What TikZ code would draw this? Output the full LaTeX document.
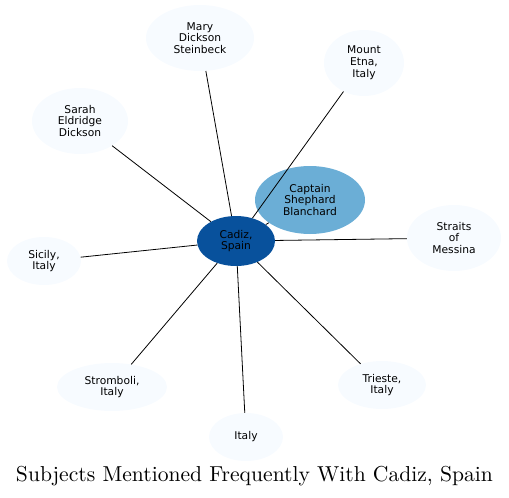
\documentclass[tikz,border=0pt]{standalone}
\usepackage{fontspec}
\newfontfamily\labfont{DejaVu Sans}
\usetikzlibrary{shapes.geometric}
\definecolor{leaf}{HTML}{F7FBFF}
\definecolor{mid}{HTML}{6BAED6}
\definecolor{hub}{HTML}{08519C}
\tikzset{
  ell/.style={ellipse, inner sep=0pt, align=center, font=\labfont\fontsize{10.7}{11.8}\selectfont, text=black},
  leafnode/.style={ell, fill=leaf},
  edge/.style={draw=black, line width=0.8pt}
}
\begin{document}
\begin{tikzpicture}[x=1pt,y=-1pt]
\useasboundingbox (0,0) rectangle (509,498);
\node[leafnode, minimum width=108, minimum height=66] (mary) at (200,38) {Mary\\Dickson\\Steinbeck};
\node[leafnode, minimum width=80, minimum height=66] (etna) at (364,63) {Mount\\Etna,\\Italy};
\node[leafnode, minimum width=96, minimum height=66] (sarah) at (80,121) {Sarah\\Eldridge\\Dickson};
\node[leafnode, minimum width=94, minimum height=66] (straits) at (454,238) {Straits\\of\\Messina};
\node[leafnode, minimum width=74, minimum height=48] (sicily) at (44,261) {Sicily,\\Italy};
\node[leafnode, minimum width=110, minimum height=48] (stromboli) at (112,387) {Stromboli,\\Italy};
\node[leafnode, minimum width=74, minimum height=48] (italy) at (246,437) {Italy};
\node[leafnode, minimum width=88, minimum height=48] (trieste) at (382,385) {Trieste,\\Italy};
\node[ell, fill=mid, minimum width=110, minimum height=68] (captain) at (310,200) {Captain\\Shephard\\Blanchard};
\node[ell, fill=hub, minimum width=78, minimum height=50] (cadiz) at (236,241) {Cadiz,\\Spain};
\foreach \n in {mary,etna,sarah,straits,sicily,stromboli,italy,trieste,captain}
  \draw[edge] (cadiz) -- (\n);
\node[inner sep=0pt] (title) at (254.5,476) {\resizebox{477pt}{!}{\fontsize{10}{12}\selectfont Subjects Mentioned Frequently With Cadiz, Spain}};
\end{tikzpicture}
\end{document}
